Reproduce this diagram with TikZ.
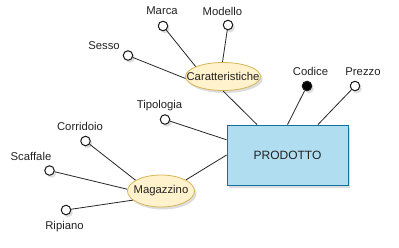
\documentclass[tikz,border=0pt]{standalone}
\usepackage{fontspec}
\setmainfont{Liberation Sans}
\usetikzlibrary{shapes.geometric,shadows,calc}

\definecolor{entityFill}{HTML}{B1DDF0}
\definecolor{entityLine}{HTML}{10739E}
\definecolor{groupFill}{HTML}{FFF2CC}
\definecolor{groupLine}{HTML}{D6B656}
\definecolor{labelText}{HTML}{222222}

\tikzset{
  softshadow/.style={drop shadow={shadow xshift=2pt, shadow yshift=-2.5pt, opacity=0.22, fill=black!60}},
  entity/.style={rectangle, draw=entityLine, fill=entityFill, line width=0.8pt,
    minimum width=121pt, minimum height=60pt, inner sep=0pt, softshadow,
    font=\fontsize{12}{14}\selectfont, text=labelText},
  groupshape/.style={ellipse, draw=groupLine, fill=groupFill, line width=0.8pt,
    inner sep=0pt, softshadow},
  attr/.style={circle, draw=black!90, fill=white, line width=1pt,
    minimum size=9.5pt, inner sep=0pt, softshadow},
  keyattr/.style={attr, fill=black},
  lbl/.style={inner sep=0pt, font=\fontsize{11.3}{13}\selectfont, text=labelText},
  link/.style={draw=black!85, line width=0.8pt}
}

\begin{document}
\begin{tikzpicture}[x=1pt, y=-1pt]
\useasboundingbox[fill=white] (0,0) rectangle (399,247);

% entity
\node[entity] (prod) at (287.5,155) {PRODOTTO};

% composite attributes
\node[groupshape, minimum width=75pt, minimum height=28pt] (car) at (223,76.5) {};
\node[lbl] (carText) at (car.center) {Caratteristiche};
\node[groupshape, minimum width=67pt, minimum height=32pt] (mag) at (161,191) {};
\node[lbl] (magText) at (mag.center) {Magazzino};

% simple attributes
\node[attr] (marca) at (163,26) {};
\node[attr] (sesso) at (128,55.5) {};
\node[attr] (modello) at (228,25) {};
\node[keyattr] (codice) at (307,86) {};
\node[attr] (prezzo) at (355,86) {};
\node[attr] (tipologia) at (165,119.5) {};
\node[attr] (corridoio) at (85.5,141) {};
\node[attr] (scaffale) at (49.5,170.5) {};
\node[attr] (ripiano) at (66,210) {};

% attribute names
\node[lbl] (marcaL) at (162,11) {Marca};
\node[lbl] (sessoL) at (104,46) {Sesso};
\node[lbl] (modelloL) at (222.5,11) {Modello};
\node[lbl] (codiceL) at (310.5,71.5) {Codice};
\node[lbl] (prezzoL) at (363,71.5) {Prezzo};
\node[lbl] (tipologiaL) at (159.5,106) {Tipologia};
\node[lbl] (corridoioL) at (80,126) {Corridoio};
\node[lbl] (scaffaleL) at (31,156) {Scaffale};
\node[lbl] (ripianoL) at (64.5,226.5) {Ripiano};

% connectors
\draw[link] (marca) -- (car.160);
\draw[link] (sesso) -- (car.183);
\draw[link] (modello) -- (car.92);
\draw[link] (car.south) -- ($(prod.north west)!0.25!(prod.north east)$);
\draw[link] (codice) -- (prod.north);
\draw[link] (prezzo) -- ($(prod.north west)!0.75!(prod.north east)$);
\draw[link] (tipologia) -- ($(prod.north west)!0.25!(prod.south west)$);
\draw[link] (mag.24) -- (prod.west);
\draw[link] (corridoio) -- (mag.157);
\draw[link] (scaffale) -- (mag.177);
\draw[link] (ripiano) -- (mag.198);
\end{tikzpicture}
\end{document}
